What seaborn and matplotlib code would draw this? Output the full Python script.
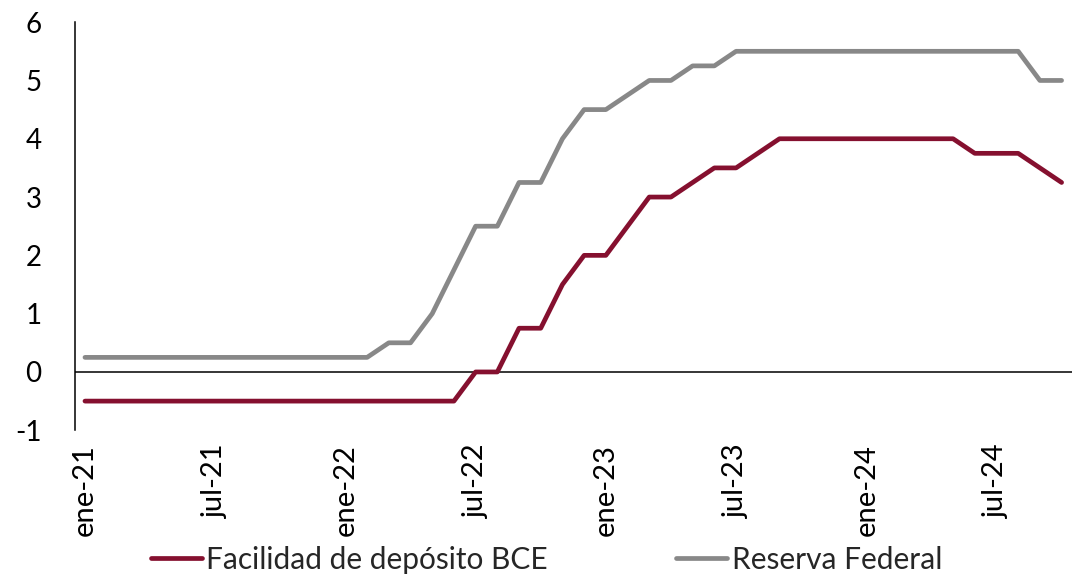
import numpy as np
import pandas as pd
import matplotlib
matplotlib.use("Agg")
import matplotlib.pyplot as plt
import seaborn as sns

sns.set_style("white")
plt.rcParams['font.family'] = ['Lato', 'DejaVu Sans']

# monthly, ene-21 .. oct-24
months = pd.date_range("2021-01-01", "2024-10-01", freq="MS")
bce = [-0.5] * 18 + [0, 0, 0.75, 0.75, 1.5, 2.0, 2.0, 2.5, 3.0, 3.0, 3.25, 3.5, 3.5,
                     3.75, 4.0, 4.0, 4.0, 4.0, 4.0, 4.0, 4.0, 4.0, 4.0,
                     3.75, 3.75, 3.75, 3.5, 3.25]
fed = [0.25] * 14 + [0.5, 0.5, 1.0, 1.75, 2.5, 2.5, 3.25, 3.25, 4.0, 4.5, 4.5, 4.75,
                     5.0, 5.0, 5.25, 5.25] + [5.5] * 14 + [5.0, 5.0]
tick_pos = [0, 6, 12, 18, 24, 30, 36, 42]
tick_labels = ["ene-21", "jul-21", "ene-22", "jul-22", "ene-23", "jul-23", "ene-24", "jul-24"]
y_ticks = [-1, 0, 1, 2, 3, 4, 5, 6]
y_labels = ["-1", "0", "1", "2", "3", "4", "5", "6"]

df = pd.DataFrame({"idx": np.arange(len(months)), "bce": bce, "fed": fed})

fig = plt.figure(figsize=(10.76, 5.83), dpi=100)
ax = fig.add_axes([0.0697, 0.262, 0.927, 0.700])

sns.lineplot(data=df, x="idx", y="bce", ax=ax, color="#85102f", linewidth=3.4,
             label="Facilidad de depósito BCE", solid_capstyle="round")
sns.lineplot(data=df, x="idx", y="fed", ax=ax, color="#888888", linewidth=3.4,
             label="Reserva Federal", solid_capstyle="round")

ax.axhline(0, color="black", linewidth=1.1, zorder=1)
ax.set_ylim(-1, 6)
ax.set_yticks(y_ticks)
ax.set_yticklabels(y_labels)
ax.set_xlim(-0.46, 45.5)
ax.set_xticks(tick_pos)
ax.set_xticklabels(tick_labels, rotation=90)
ax.set_xlabel("")
ax.set_ylabel("")
for s in ["top", "right", "bottom"]:
    ax.spines[s].set_visible(False)
ax.spines["left"].set_color("black")
ax.spines["left"].set_linewidth(1.1)
ax.tick_params(axis="y", labelsize=20, length=0, colors="black", pad=24)
ax.tick_params(axis="x", labelsize=21, length=0, colors="black", pad=10)

ax.get_legend().remove()
h, l = ax.get_legend_handles_labels()
fig.legend(h, l, loc="lower center", bbox_to_anchor=(0.508, -0.03), ncol=2, frameon=False,
           fontsize=21.5, handlelength=1.7, handletextpad=0.15, columnspacing=4.3)

fig.savefig("out.png", dpi=100)
